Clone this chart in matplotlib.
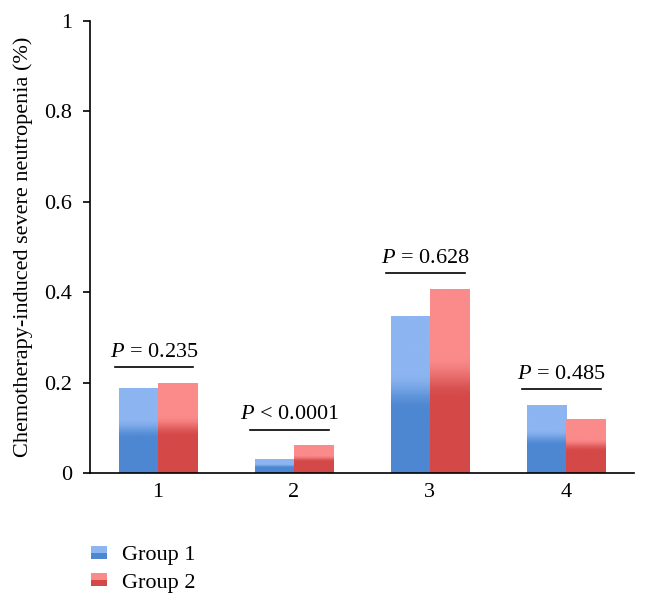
import numpy as np
import matplotlib
matplotlib.use("Agg")
import matplotlib.pyplot as plt
from matplotlib.colors import LinearSegmentedColormap
from matplotlib.legend_handler import HandlerBase
from matplotlib.patches import Rectangle

# data
categories = ["1", "2", "3", "4"]
group1 = [0.188, 0.029, 0.347, 0.150]
group2 = [0.199, 0.060, 0.407, 0.119]
p_labels = ["0.235", "0.0001", "0.628", "0.485"]
p_signs = ["=", "<", "=", "="]
y_ticks = [0, 0.2, 0.4, 0.6, 0.8, 1]
y_tick_labels = ["0", "0.2", "0.4", "0.6", "0.8", "1"]

BLUE_LIGHT, BLUE_DARK = "#8cb5f1", "#4d87d2"
RED_LIGHT, RED_DARK = "#fb8b8b", "#d44848"
BAR_W = 0.287
FS = 16

plt.rcParams["font.family"] = ["Liberation Serif", "DejaVu Serif"]
plt.rcParams["mathtext.fontset"] = "custom"
plt.rcParams["mathtext.rm"] = "Liberation Serif"
plt.rcParams["mathtext.it"] = "Liberation Serif:italic"


def gradient_cmap(light, dark):
    return LinearSegmentedColormap.from_list("g", [dark, light])


def grad_array(n=200):
    f = np.linspace(0, 1, n)
    v = np.clip((f - 0.40) / 0.24, 0, 1)
    v = v * v * (3 - 2 * v)
    return v[:, None]


def draw_bar(ax, x, h, light, dark):
    ax.imshow(grad_array(), extent=(x - BAR_W / 2, x + BAR_W / 2, 0, h),
              origin="lower", aspect="auto", cmap=gradient_cmap(light, dark),
              vmin=0, vmax=1, zorder=2, interpolation="bilinear")


class GradHandler(HandlerBase):
    def __init__(self, light, dark):
        super().__init__()
        self.light, self.dark = light, dark

    def create_artists(self, legend, orig_handle, xdescent, ydescent,
                       width, height, fontsize, trans):
        s = height * 0.85
        x0 = -xdescent
        y0 = -ydescent + (height - s) / 2
        top = Rectangle((x0, y0 + s * 0.5), width, s * 0.5, facecolor=self.light,
                        edgecolor="none", transform=trans)
        bot = Rectangle((x0, y0), width, s * 0.5, facecolor=self.dark,
                        edgecolor="none", transform=trans)
        return [bot, top]


fig = plt.figure(figsize=(6.48, 6.07), dpi=100)
ax = fig.add_axes([0.139, 0.2208, 0.839, 0.7446])

x = np.arange(1, len(categories) + 1)
for i in range(len(categories)):
    draw_bar(ax, x[i] - BAR_W / 2, group1[i], BLUE_LIGHT, BLUE_DARK)
    draw_bar(ax, x[i] + BAR_W / 2, group2[i], RED_LIGHT, RED_DARK)
    top = max(group1[i], group2[i]) + 0.035
    cx = x[i] - 0.03
    ax.plot([cx - 0.29, cx + 0.29], [top, top], color="black", lw=1.2, zorder=3)
    ax.annotate(r"$\it{P}$ " + p_signs[i] + " " + p_labels[i], xy=(cx, top),
                xytext=(0, 4), textcoords="offset points", ha="center", va="bottom",
                fontsize=FS)

ax.set_xlim(0.5, 4.5)
ax.set_ylim(0, 1)
ax.set_xticks(x)
ax.set_xticklabels(categories, fontsize=FS)
ax.tick_params(axis="x", length=0, pad=7)
ax.set_yticks(y_ticks)
ax.set_yticklabels(y_tick_labels, fontsize=FS)
ax.tick_params(axis="y", length=5, width=1.2, direction="out", pad=8)
for s in ["top", "right"]:
    ax.spines[s].set_visible(False)
for s in ["left", "bottom"]:
    ax.spines[s].set_linewidth(1.2)
ax.set_ylabel("Chemotherapy-induced severe neutropenia (%)", fontsize=FS, labelpad=8)

h1 = Rectangle((0, 0), 1, 1)
h2 = Rectangle((0, 0), 1, 1)
fig.legend([h1, h2], ["Group 1", "Group 2"], loc="upper left",
           bbox_to_anchor=(0.127, 0.117), frameon=False, fontsize=FS,
           handler_map={h1: GradHandler(BLUE_LIGHT, BLUE_DARK),
                        h2: GradHandler(RED_LIGHT, RED_DARK)},
           borderaxespad=0, borderpad=0.4,
           handlelength=0.7, handletextpad=0.7, labelspacing=0.3)

fig.savefig("out.png", dpi=100)
